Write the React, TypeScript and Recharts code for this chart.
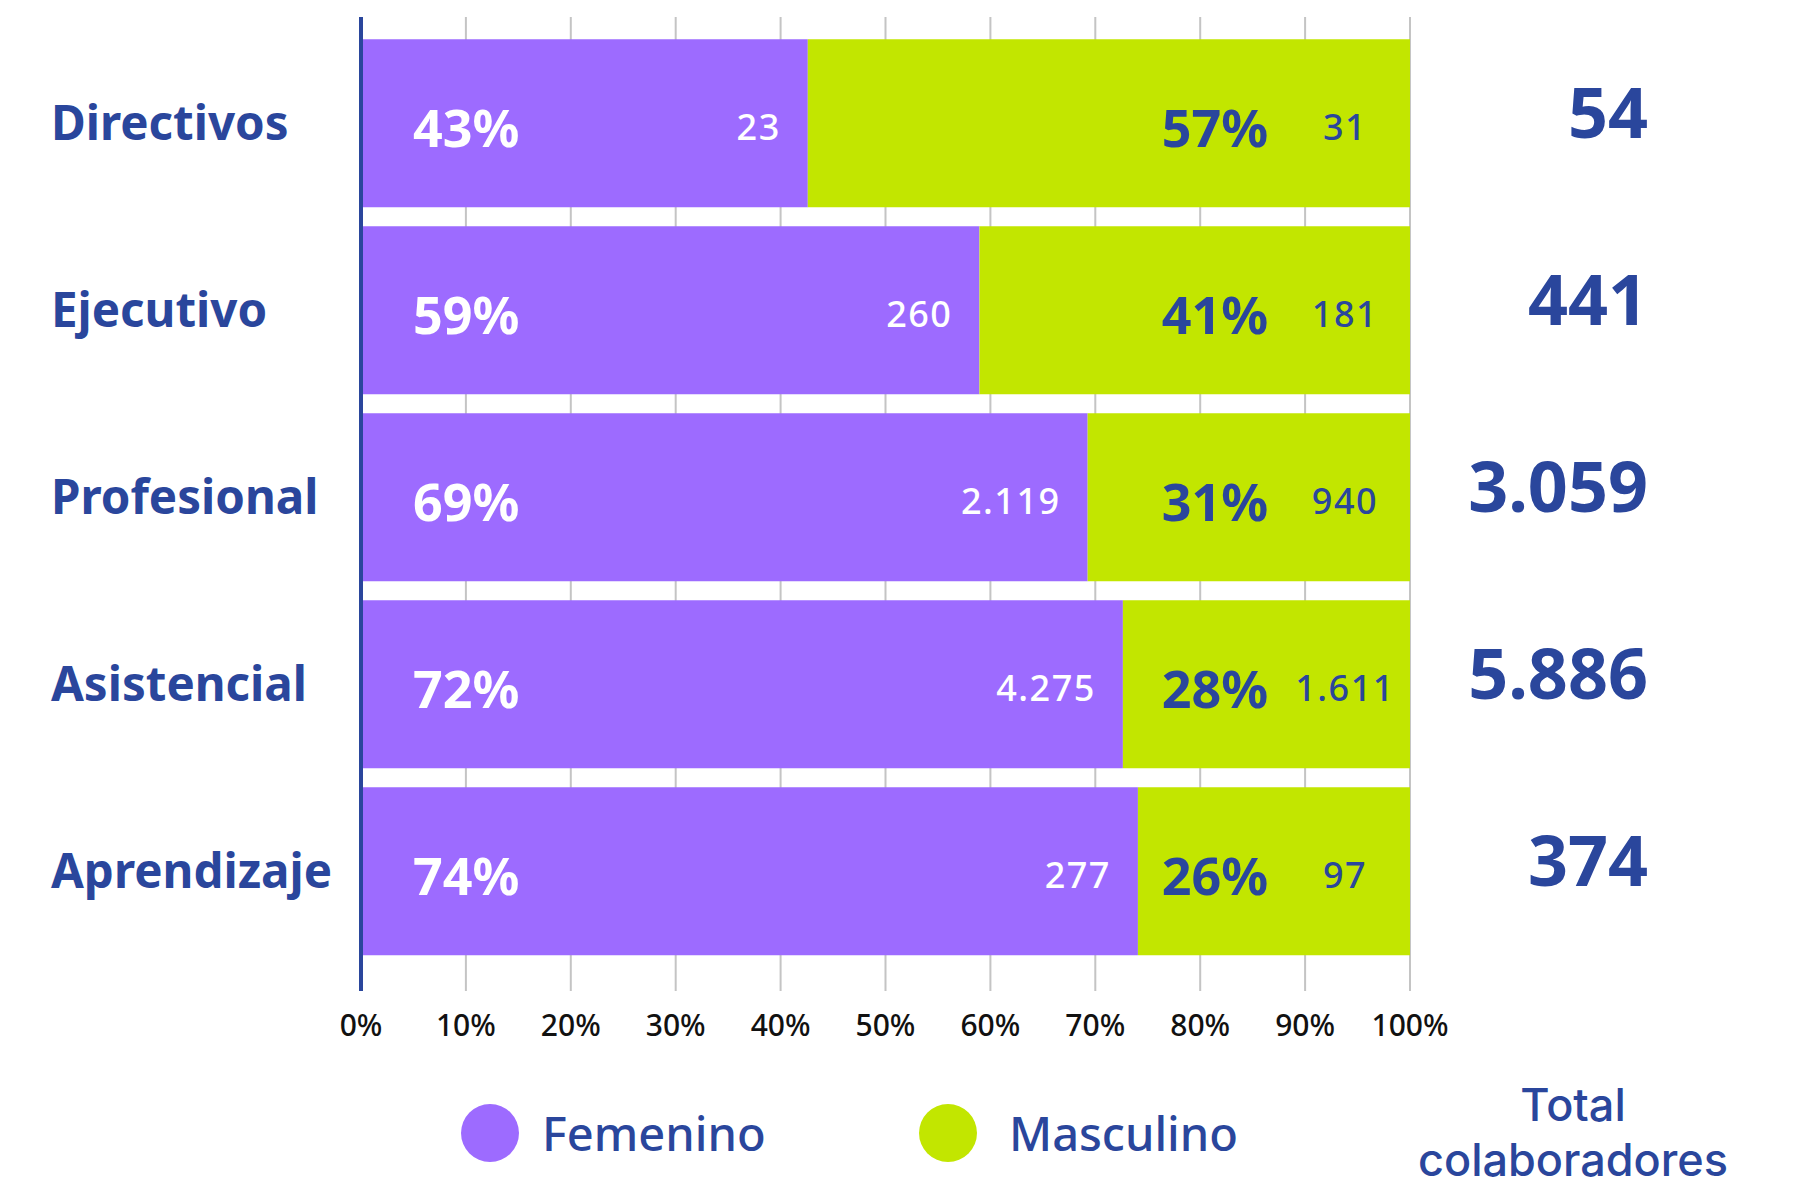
import React from 'react';
import { BarChart, Bar, XAxis, YAxis, CartesianGrid, LabelList } from 'recharts';

const categories = ['Directivos', 'Ejecutivo', 'Profesional', 'Asistencial', 'Aprendizaje'];
const femenino = [23, 260, 2119, 4275, 277];
const masculino = [31, 181, 940, 1611, 97];
const femeninoPct = ['43%', '59%', '69%', '72%', '74%'];
const masculinoPct = ['57%', '41%', '31%', '28%', '26%'];
const totales = [54, 441, 3059, 5886, 374];
const tickValues = [0, 0.1, 0.2, 0.3, 0.4, 0.5, 0.6, 0.7, 0.8, 0.9, 1];
const tickLabels = ['0%', '10%', '20%', '30%', '40%', '50%', '60%', '70%', '80%', '90%', '100%'];

const BLUE = '#2a469c';
const PURPLE = '#9d6bff';
const GREEN = '#c2e600';
const FONT = '"Noto Sans", sans-serif';

const data = categories.map((name, i) => ({ name, fem: femenino[i], masc: masculino[i] }));

// 2119 -> "2.119"
const fmt = (n: number) => String(n).replace(/\B(?=(\d{3})+(?!\d))/g, '.');

const box = (p: any) => {
  const vb = p.viewBox || p;
  return { x: Number(vb.x), y: Number(vb.y), w: Number(vb.width), h: Number(vb.height), i: p.index };
};

const CategoryTick = ({ y, payload }: any) => (
  <text x={51} y={y - 2} dominantBaseline="central" fill={BLUE} fontSize={47.5} fontWeight={700} fontFamily={FONT}>
    {payload.value}
  </text>
);

const PercentTick = ({ x, y, index }: any) => (
  <text x={x} y={y + 31} textAnchor="middle" dominantBaseline="central" fill="#111" fontSize={30} fontWeight={500} fontFamily={FONT}>
    {tickLabels[index]}
  </text>
);

const FemLabels = (p: any) => {
  const { x, y, w, h, i } = box(p);
  const cy = y + h / 2 + 3;
  return (
    <g fontFamily={FONT} fill="#fff">
      <text x={x + 52} y={cy} dominantBaseline="central" fontSize={52} fontWeight={700}>{femeninoPct[i]}</text>
      <text x={x + w - 27} y={cy} textAnchor="end" dominantBaseline="central" fontSize={36} fontWeight={500} letterSpacing={1.5}>{fmt(femenino[i])}</text>
    </g>
  );
};

const MascLabels = (p: any) => {
  const { x, y, w, h, i } = box(p);
  const end = x + w;
  const cy = y + h / 2 + 3;
  return (
    <g fontFamily={FONT} fill={BLUE}>
      <text x={end - 195} y={cy} textAnchor="middle" dominantBaseline="central" fontSize={52} fontWeight={700}>{masculinoPct[i]}</text>
      <text x={end - 65} y={cy} textAnchor="middle" dominantBaseline="central" fontSize={36} fontWeight={500} letterSpacing={1.5}>{fmt(masculino[i])}</text>
      <text x={end + 238} y={cy - 15} textAnchor="end" dominantBaseline="central" fontSize={70} fontWeight={700}>{fmt(totales[i])}</text>
    </g>
  );
};

const totalStyle: React.CSSProperties = {
  position: 'absolute',
  left: 1373,
  width: 400,
  textAlign: 'center',
  fontFamily: 'Inter, sans-serif',
  fontSize: 45,
  fontWeight: 500,
  color: BLUE,
  lineHeight: '54px',
  whiteSpace: 'nowrap',
};

export default function App() {
  return (
    <div style={{ position: 'relative', width: 1794, height: 1189, background: '#fff', fontFamily: FONT, overflow: 'hidden' }}>
      <style>{'body{margin:0}'}</style>
      <BarChart
        width={1794}
        height={1189}
        data={data}
        layout="vertical"
        stackOffset="expand"
        barCategoryGap="5%"
        margin={{ top: 17, right: 384, bottom: 138, left: 0 }}
      >
        <CartesianGrid horizontal={false} stroke="#c4c4c4" strokeWidth={2} />
        <XAxis
          type="number"
          domain={[0, 1]}
          ticks={tickValues}
          axisLine={false}
          tickLine={false}
          tickSize={0}
          height={60}
          tick={<PercentTick />}
          interval={0}
        />
        <YAxis
          type="category"
          dataKey="name"
          width={361}
          padding={{ top: 13, bottom: 26 }}
          axisLine={{ stroke: BLUE, strokeWidth: 4 }}
          tickLine={false}
          tick={<CategoryTick />}
        />
        <Bar dataKey="fem" stackId="a" fill={PURPLE} isAnimationActive={false}>
          <LabelList dataKey="fem" content={FemLabels} />
        </Bar>
        <Bar dataKey="masc" stackId="a" fill={GREEN} isAnimationActive={false}>
          <LabelList dataKey="masc" content={MascLabels} />
        </Bar>
      </BarChart>

      <div style={{ position: 'absolute', left: 461, top: 1104, width: 58, height: 58, borderRadius: '50%', background: PURPLE }} />
      <div style={{ position: 'absolute', left: 542, top: 1103, lineHeight: '60px', fontSize: 47, fontWeight: 500, color: BLUE }}>Femenino</div>
      <div style={{ position: 'absolute', left: 919, top: 1104, width: 58, height: 58, borderRadius: '50%', background: GREEN }} />
      <div style={{ position: 'absolute', left: 1009, top: 1103, lineHeight: '60px', fontSize: 47, fontWeight: 500, color: BLUE }}>Masculino</div>
      <div style={{ ...totalStyle, top: 1078 }}>Total</div>
      <div style={{ ...totalStyle, top: 1133 }}>colaboradores</div>
    </div>
  );
}
